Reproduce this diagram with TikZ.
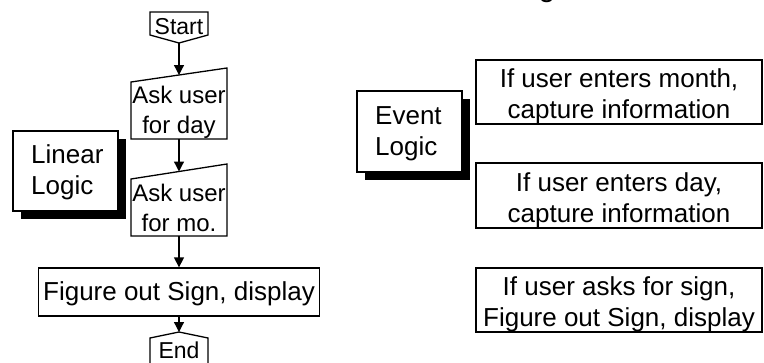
\documentclass[tikz,border=0pt]{standalone}
\usepackage{fontspec}
\setmainfont{Liberation Sans}
\usetikzlibrary{arrows.meta}
\begin{document}
\begin{tikzpicture}[x=1pt,y=-1pt,
  shp/.style={draw=black, line width=1.3pt, fill=white, line join=miter},
  boxnode/.style={shp, rectangle, inner sep=0pt},
  shadowbox/.style={fill=black, draw=none},
  lbl/.style={anchor=base, inner sep=0pt, font=\fontsize{26}{31}\selectfont},
  lblleft/.style={anchor=base west, inner sep=0pt, font=\fontsize{26}{31}\selectfont},
  lblsm/.style={anchor=base, inner sep=0pt, font=\fontsize{24}{30}\selectfont},
  lblxs/.style={anchor=base, inner sep=0pt, font=\fontsize{23}{28}\selectfont},
  arr/.style={line width=1.3pt, -{Triangle[width=10pt,length=10pt]}},
]
\useasboundingbox (0,0) rectangle (764,362);

% fragment of a title cut off at the top
\node[anchor=base, inner sep=0pt, font=\fontsize{30}{36}\selectfont] (titleg) at (547,-3.5) {g};

% ---------- Linear flow ----------
% Start
\coordinate (startpt) at (179,43);
\draw[shp] (150,12) -- (208,12) -- (208,35) -- (startpt) -- (150,35) -- cycle;
\node[lblxs] (starttxt) at (179,34) {Start};

% Ask user for day
\coordinate (a1top) at (179,75);
\coordinate (a1bot) at (179,139);
\draw[shp] (131,82) -- (227,68) -- (227,139) -- (131,139) -- cycle;
\node[lblsm] (a1l1) at (179,103) {Ask user};
\node[lblsm] (a1l2) at (179,133) {for day};

% Ask user for mo.
\coordinate (a2top) at (179,171.5);
\coordinate (a2bot) at (179,236);
\draw[shp] (131,179) -- (227,164) -- (227,236) -- (131,236) -- cycle;
\node[lblsm] (a2l1) at (179,201) {Ask user};
\node[lblsm] (a2l2) at (179,231) {for mo.};

% Figure out sign
\node[boxnode, minimum width=281pt, minimum height=48pt] (fig) at (179,292) {};
\node[lbl] (figtxt) at (179,300) {Figure out Sign, display};

% End
\coordinate (endpt) at (179,332);
\draw[shp] (endpt) -- (208,338) -- (208,366) -- (150,366) -- (150,338) -- cycle;
\node[lblxs] (endtxt) at (179,358) {End};

% connectors
\draw[arr] (startpt) -- (a1top);
\draw[arr] (a1bot) -- (a2top);
\draw[arr] (a2bot) -- (fig.north);
\draw[arr] (fig.south) -- (endpt);

% Linear Logic label box
\fill[shadowbox] (21,139) rectangle (126,219);
\node[boxnode, minimum width=105pt, minimum height=80pt] (linbox) at (65.5,171) {};
\node[lblleft] (lin1) at (31,163) {Linear};
\node[lblleft] (lin2) at (31,194) {Logic};

% ---------- Event logic ----------
\fill[shadowbox] (365,99) rectangle (470,180);
\node[boxnode, minimum width=105pt, minimum height=81pt] (evbox) at (409.5,131.5) {};
\node[lblleft] (ev1) at (375,124) {Event};
\node[lblleft] (ev2) at (375,155) {Logic};

\node[boxnode, minimum width=286pt, minimum height=64pt] (r1) at (619,92) {};
\node[lbl] (r1a) at (619,87) {If user enters month,};
\node[lbl] (r1b) at (619,118) {capture information};

\node[boxnode, minimum width=286pt, minimum height=65pt] (r2) at (619,195.5) {};
\node[lbl] (r2a) at (619,191) {If user enters day,};
\node[lbl] (r2b) at (619,222) {capture information};

\node[boxnode, minimum width=286pt, minimum height=64pt] (r3) at (619,300) {};
\node[lbl] (r3a) at (619,295) {If user asks for sign,};
\node[lbl] (r3b) at (619,326) {Figure out Sign, display};
\end{tikzpicture}
\end{document}
